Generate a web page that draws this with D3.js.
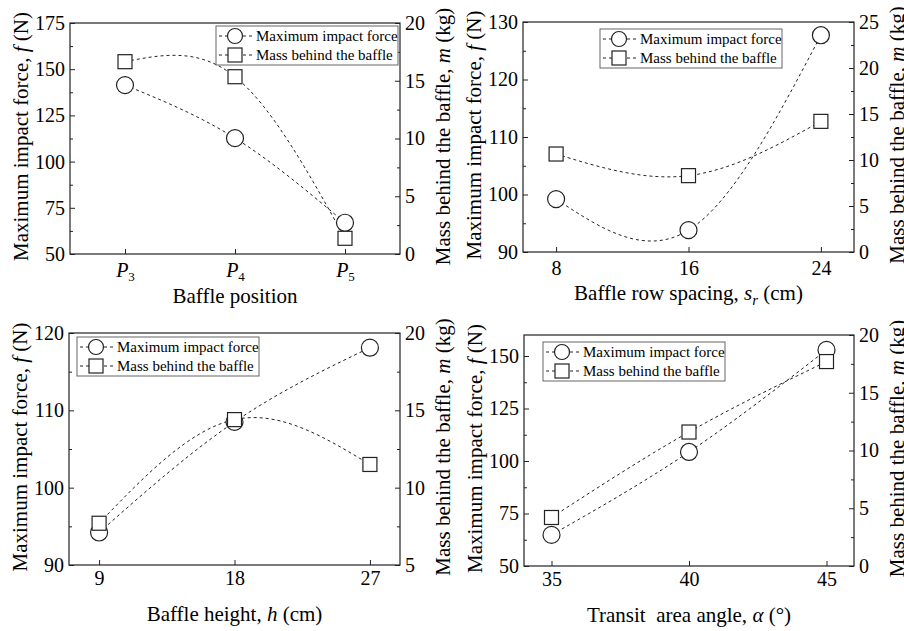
<!DOCTYPE html>
<html>
<head>
<meta charset="utf-8">
<script src="https://cdn.jsdelivr.net/npm/d3@7"></script>
<style>
  html, body { margin: 0; padding: 0; background: #fff; }
  svg, svg text { font-family: "Liberation Serif", "Times New Roman", serif; }
</style>
</head>
<body>
<svg id="chart"></svg>
<script>
// Panel (a): baffle position
const positionX = [3, 4, 5];
const positionSub = ["3", "4", "5"];
const positionForce = [141.4, 112.7, 66.9];
const positionMass = [16.65, 15.35, 1.36];

// Panel (b): baffle row spacing
const spacingX = [8, 16, 24];
const spacingForce = [99.2, 93.8, 127.7];
const spacingMass = [10.65, 8.3, 14.2];

// Panel (c): baffle height
const heightX = [9, 18, 27];
const heightForce = [94.2, 108.5, 118.1];
const heightMass = [7.7, 14.4, 11.5];

// Panel (d): transit area angle
const angleX = [35, 40, 45];
const angleForce = [64.8, 104.3, 152.9];
const angleMass = [4.2, 11.6, 17.7];

const legendLabels = ["Maximum impact force", "Mass behind the baffle"];
const leftTitle = [["Maximum impact force, "], ["f", "i"], [" (N)"]];
const rightTitle = [["Mass behind the baffle, "], ["m", "i"], [" (kg)"]];

const W = 904, H = 631;
const ink = "#222";
const serif = "'Liberation Serif', 'Times New Roman', serif";

const svg = d3.select("#chart").attr("width", W).attr("height", H).style("font-family", serif);

const panels = [
  {
    box: { x0: 70, x1: 400, y0: 23, y1: 254 },
    xDomain: [2.5, 5.5], xs: positionX, force: positionForce, mass: positionMass,
    xTicks: positionX, xSub: positionSub, xPad: 9,
    yL: [50, 175], yLTicks: d3.range(50, 176, 25), yLMinor: d3.range(62.5, 175, 25),
    yR: [0, 20], yRTicks: d3.range(0, 21, 5), yRMinor: d3.range(2.5, 20, 5),
    xTitle: [["Baffle position"]], xTitleDy: 49,
    legend: { x: 216, y: 26 }
  },
  {
    box: { x0: 523, x1: 854, y0: 22, y1: 252 },
    xDomain: [6, 26], xs: spacingX, force: spacingForce, mass: spacingMass,
    xTicks: spacingX, xPad: 9,
    yL: [90, 130], yLTicks: d3.range(90, 131, 10), yLMinor: d3.range(95, 130, 10),
    yR: [0, 25], yRTicks: d3.range(0, 26, 5), yRMinor: d3.range(2.5, 25, 5),
    xTitle: [["Baffle row spacing, "], ["s", "i"], ["r", "i", "sub"], [" (cm)"]], xTitleDy: 48,
    legend: { x: 600, y: 29 }
  },
  {
    box: { x0: 69, x1: 400, y0: 333, y1: 565 },
    xDomain: [7, 29], xs: heightX, force: heightForce, mass: heightMass,
    xTicks: heightX, xPad: 6,
    yL: [90, 120], yLTicks: d3.range(90, 121, 10), yLMinor: d3.range(95, 120, 10),
    yR: [5, 20], yRTicks: d3.range(5, 21, 5), yRMinor: d3.range(7.5, 20, 5),
    xTitle: [["Baffle height, "], ["h", "i"], [" (cm)"]], xTitleDy: 56,
    legend: { x: 77, y: 337 }
  },
  {
    box: { x0: 524, x1: 854, y0: 335, y1: 566 },
    xDomain: [34, 46], xs: angleX, force: angleForce, mass: angleMass,
    xTicks: angleX, xPad: 6,
    yL: [50, 160], yLTicks: d3.range(50, 151, 25), yLMinor: d3.range(62.5, 160, 25),
    yR: [0, 20], yRTicks: d3.range(0, 21, 5), yRMinor: d3.range(2.5, 20, 5),
    xTitle: [["Transit  area angle, "], ["\u03b1", "i"], [" (\u00b0)"]], xTitleDy: 56,
    legend: { x: 543, y: 342 }
  }
];

function richText(sel, parts) {
  parts.forEach((p, idx) => {
    const t = sel.append("tspan").text(p[0]).attr("xml:space", "preserve");
    if (p[1] === "i") t.attr("font-style", "italic");
    if (p[2] === "sub") t.attr("dy", 5).attr("font-size", "15px");
    else if (idx > 0 && parts[idx - 1][2] === "sub") t.attr("dy", -5);
  });
}

function circleMark(g, cx, cy, r) {
  g.append("circle").attr("cx", cx).attr("cy", cy).attr("r", r)
    .attr("fill", "#fff").attr("stroke", ink).attr("stroke-width", 1.2);
}
function squareMark(g, cx, cy, s) {
  g.append("rect").attr("x", cx - s / 2).attr("y", cy - s / 2).attr("width", s).attr("height", s)
    .attr("fill", "#fff").attr("stroke", ink).attr("stroke-width", 1.2);
}

panels.forEach(p => {
  const b = p.box;
  const g = svg.append("g");
  const x = d3.scaleLinear().domain(p.xDomain).range([b.x0, b.x1]);
  const yL = d3.scaleLinear().domain(p.yL).range([b.y1, b.y0]);
  const yR = d3.scaleLinear().domain(p.yR).range([b.y1, b.y0]);

  // left axis
  const gl = g.append("g").attr("transform", `translate(${b.x0},0)`);
  gl.call(d3.axisLeft(yL).tickValues(p.yLTicks).tickSize(-5).tickSizeOuter(0).tickPadding(5));
  gl.append("g").call(d3.axisLeft(yL).tickValues(p.yLMinor).tickSize(-3).tickSizeOuter(0).tickFormat(""));

  // right axis
  const gr = g.append("g").attr("transform", `translate(${b.x1},0)`);
  gr.call(d3.axisRight(yR).tickValues(p.yRTicks).tickSize(-5).tickSizeOuter(0).tickPadding(5));
  gr.append("g").call(d3.axisRight(yR).tickValues(p.yRMinor).tickSize(-3).tickSizeOuter(0).tickFormat(""));

  // bottom axis
  const gb = g.append("g").attr("transform", `translate(0,${b.y1})`);
  gb.call(d3.axisBottom(x).tickValues(p.xTicks).tickSize(-5).tickSizeOuter(0).tickPadding(p.xPad));
  if (p.xSub) {
    gb.selectAll(".tick text").each(function(d, i) {
      const t = d3.select(this);
      t.text(null);
      t.append("tspan").attr("font-style", "italic").text("P");
      t.append("tspan").attr("dy", 4).attr("font-size", "13px").text(p.xSub[i]);
    });
  }

  g.selectAll(".domain").remove();
  g.selectAll("g").attr("font-family", null).style("font-family", serif);
  g.selectAll(".tick line").attr("stroke", ink);
  g.selectAll(".tick text").attr("font-size", "20px").attr("fill", "#000");

  // frame
  g.append("rect").attr("x", b.x0).attr("y", b.y0)
    .attr("width", b.x1 - b.x0).attr("height", b.y1 - b.y0)
    .attr("fill", "none").attr("stroke", ink).attr("stroke-width", 1.2);

  // curves
  const forcePts = p.xs.map((v, i) => [x(v), yL(p.force[i])]);
  const massPts = p.xs.map((v, i) => [x(v), yR(p.mass[i])]);
  const line = d3.line().curve(d3.curveNatural);
  [forcePts, massPts].forEach(pts => {
    g.append("path").attr("d", line(pts)).attr("fill", "none")
      .attr("stroke", ink).attr("stroke-width", 1).attr("stroke-dasharray", "3,3");
  });
  forcePts.forEach(pt => circleMark(g, pt[0], pt[1], 8.5));
  massPts.forEach(pt => squareMark(g, pt[0], pt[1], 14));

  // axis titles
  const midY = (b.y0 + b.y1) / 2 - 2;
  const tl = g.append("text").attr("font-size", "21px").attr("fill", "#000").attr("text-anchor", "middle")
    .attr("transform", `translate(${b.x0 - 42},${midY}) rotate(-90)`);
  richText(tl, leftTitle);
  const tr = g.append("text").attr("font-size", "21px").attr("fill", "#000").attr("text-anchor", "middle")
    .attr("transform", `translate(${b.x1 + 50},${midY}) rotate(-90)`);
  richText(tr, rightTitle);
  const tx = g.append("text").attr("font-size", "21px").attr("fill", "#000").attr("text-anchor", "middle")
    .attr("x", (b.x0 + b.x1) / 2).attr("y", b.y1 + p.xTitleDy);
  richText(tx, p.xTitle);

  // legend
  const L = p.legend;
  const lg = g.append("g").attr("transform", `translate(${L.x},${L.y})`);
  lg.append("rect").attr("width", 182).attr("height", 39)
    .attr("fill", "#fff").attr("stroke", "#666").attr("stroke-width", 1);
  legendLabels.forEach((lab, i) => {
    const cy = 10 + i * 19;
    lg.append("line").attr("x1", 3).attr("x2", 36).attr("y1", cy).attr("y2", cy)
      .attr("stroke", ink).attr("stroke-width", 1).attr("stroke-dasharray", "3,3");
    if (i === 0) circleMark(lg, 19, cy, 7.5);
    else squareMark(lg, 19, cy, 14);
    lg.append("text").attr("x", 40).attr("y", cy).attr("dy", "0.35em")
      .attr("font-size", "15px").attr("fill", "#000").text(lab);
  });
});
</script>
</body>
</html>
